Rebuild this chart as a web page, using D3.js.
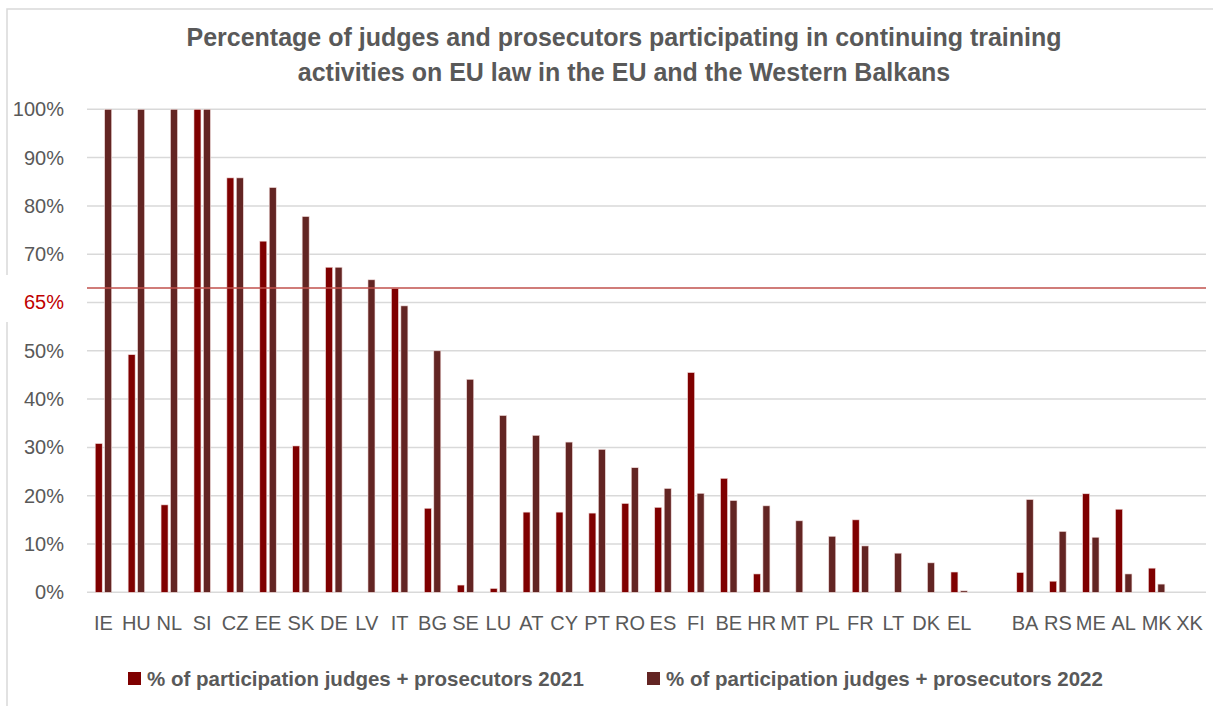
<!DOCTYPE html>
<html>
<head>
<meta charset="utf-8">
<script src="https://cdn.jsdelivr.net/npm/d3@7"></script>
<style>
  body { margin: 0; background: #fff; }
  svg { display: block; font-family: "Liberation Sans", Arial, sans-serif; }
</style>
</head>
<body>
<svg id="chart" width="1213" height="706"></svg>
<script>
// data
const countries = ["IE","HU","NL","SI","CZ","EE","SK","DE","LV","IT","BG","SE","LU","AT","CY","PT","RO","ES","FI","BE","HR","MT","PL","FR","LT","DK","EL"," ","BA","RS","ME","AL","MK","XK"];
const values2021 = [30.8,49.2,18.1,100,85.8,72.7,30.3,67.3,0,62.9,17.4,1.5,0.8,16.6,16.6,16.4,18.4,17.6,45.5,23.6,3.8,0,0,15.0,0,0,4.2,null,4.1,2.3,20.4,17.2,5.0,0];
const values2022 = [100,100,100,100,85.8,83.8,77.8,67.3,64.7,59.3,50.0,44.1,36.6,32.5,31.1,29.6,25.8,21.5,20.5,19.0,17.9,14.8,11.6,9.6,8.1,6.1,0.3,null,19.2,12.6,11.4,3.8,1.7,0];
const seriesNames = ["% of participation judges + prosecutors 2021","% of participation judges + prosecutors 2022"];
const seriesColors = ["#7f0000","#632523"];
const yTicks = [0,10,20,30,40,50,60,70,80,90,100];
const yTickLabels = ["0%","10%","20%","30%","40%","50%","65%","70%","80%","90%","100%"];
const targetLine = 63;
const titleLines = ["Percentage of judges and prosecutors participating in continuing training","activities on EU law in the EU and the Western Balkans"];

const svg = d3.select("#chart");
const plotLeft = 87, plotRight = 1206, plotTop = 109.3, plotBottom = 592.3;

// outer chart border (only top and left visible in the frame)
svg.append("rect")
  .attr("x", 7).attr("y", 9)
  .attr("width", 1260).attr("height", 760)
  .attr("fill", "#fff")
  .attr("stroke", "#d9d9d9").attr("stroke-width", 1.5);

const x0 = d3.scaleBand().domain(countries).range([plotLeft, plotRight]).paddingInner(0.5).paddingOuter(0.25);
const x1 = d3.scaleBand().domain([0, 1]).range([0, x0.bandwidth()]).paddingInner(0.26);
const y = d3.scaleLinear().domain([0, 100]).range([plotBottom, plotTop]);

// gridlines
svg.append("g").selectAll("line").data(yTicks).join("line")
  .attr("x1", plotLeft).attr("x2", plotRight)
  .attr("y1", d => y(d)).attr("y2", d => y(d))
  .attr("stroke", "#d9d9d9").attr("stroke-width", 1.5);

// white box behind the 65% label
svg.append("rect")
  .attr("x", 5).attr("y", 275).attr("width", 82).attr("height", 47)
  .attr("fill", "#fff");

// y tick labels
const yAxis = d3.axisLeft(y).tickValues(yTicks).tickFormat((d, i) => yTickLabels[i]).tickSize(0).tickPadding(0);
const gy = svg.append("g").attr("transform", "translate(64,0)").call(yAxis);
gy.select(".domain").remove();
gy.selectAll("text")
  .attr("font-size", 20)
  .attr("font-family", "Liberation Sans, Arial, sans-serif")
  .attr("fill", (d, i) => yTickLabels[i] === "65%" ? "#c00000" : "#595959");

// bars
const rows = countries.map((c, i) => ({c, v: [values2021[i], values2022[i]]}));
const groups = svg.append("g").selectAll("g").data(rows).join("g")
  .attr("transform", d => `translate(${x0(d.c)},0)`);
groups.selectAll("rect")
  .data(d => d.v.map((v, k) => ({k, v})).filter(e => e.v))
  .join("rect")
  .attr("x", e => x1(e.k))
  .attr("width", x1.bandwidth())
  .attr("y", e => y(e.v))
  .attr("height", e => y(0) - y(e.v))
  .attr("fill", e => seriesColors[e.k])
  .attr("stroke", "#f2dcdb").attr("stroke-width", 0.6);

// target line
svg.append("line")
  .attr("x1", plotLeft).attr("x2", plotRight)
  .attr("y1", y(targetLine)).attr("y2", y(targetLine))
  .attr("stroke", "#c0504d").attr("stroke-width", 1.5);

// x labels
const xAxis = d3.axisBottom(x0).tickSize(0).tickPadding(0);
const gx = svg.append("g").attr("transform", `translate(0,${plotBottom + 38})`).call(xAxis);
gx.select(".domain").remove();
gx.selectAll("text")
  .attr("dy", 0)
  .attr("font-size", 20)
  .attr("font-family", "Liberation Sans, Arial, sans-serif")
  .attr("fill", "#595959");

// title
svg.append("text")
  .attr("x", 624).attr("y", 46)
  .attr("text-anchor", "middle")
  .attr("font-size", 25).attr("font-weight", "bold")
  .attr("fill", "#595959")
  .selectAll("tspan").data(titleLines).join("tspan")
  .attr("x", 624).attr("dy", (d, i) => i ? 35 : 0)
  .text(d => d);

// legend
const legendX = [128, 647];
const lg = svg.append("g").selectAll("g").data(seriesNames).join("g")
  .attr("transform", (d, i) => `translate(${legendX[i]},672)`);
lg.append("rect").attr("width", 13).attr("height", 13)
  .attr("fill", (d, i) => seriesColors[i]);
lg.append("text")
  .attr("x", 19).attr("y", 13.5)
  .attr("font-size", 20.5).attr("font-weight", "bold")
  .attr("fill", "#595959")
  .text(d => d);
</script>
</body>
</html>
